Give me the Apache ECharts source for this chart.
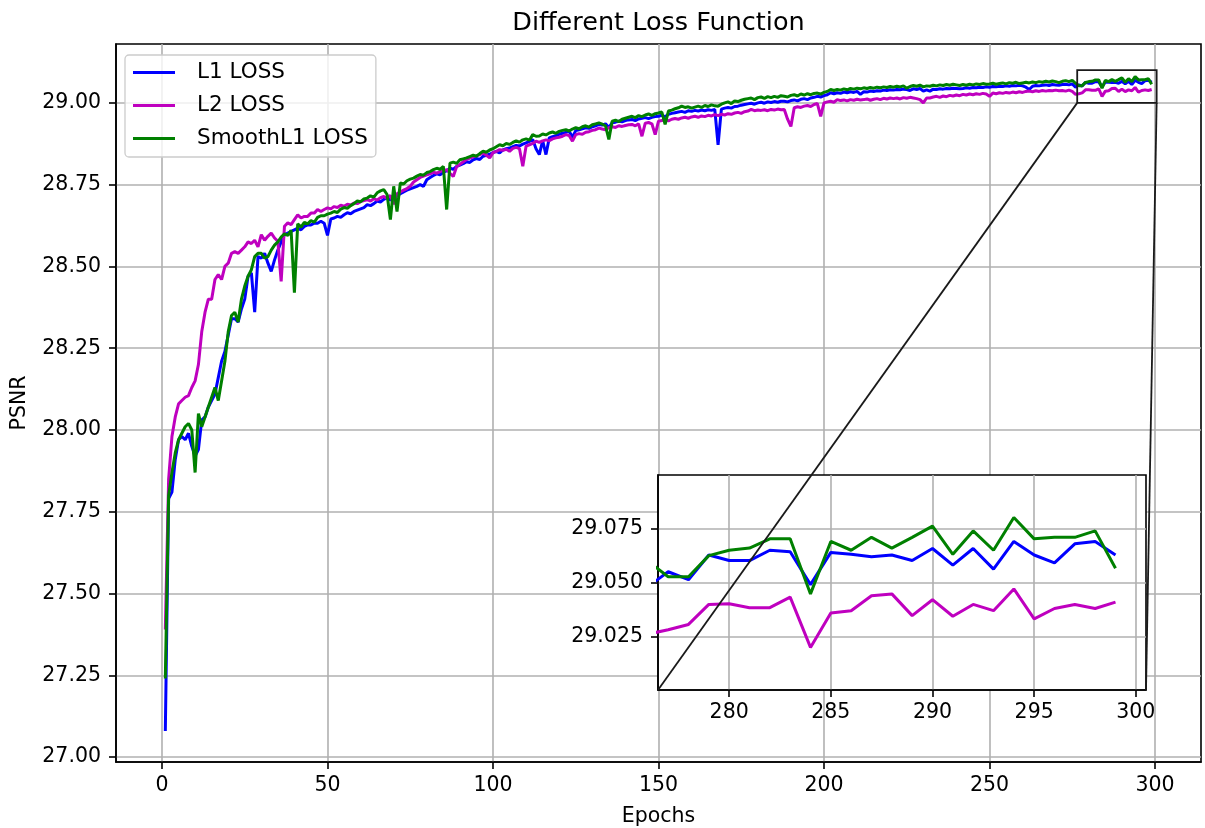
<!DOCTYPE html>
<html>
<head>
<meta charset="utf-8">
<script src="https://cdn.jsdelivr.net/npm/echarts@6.0.0/dist/echarts.min.js"></script>
<style>html,body{margin:0;padding:0;background:#fff}#c{width:1205px;height:828px}</style>
</head>
<body>
<div id="c"></div>
<script>
// ---------------- data ----------------
const FIRST_EPOCH = 1;
const seriesNames = ['L1 LOSS', 'L2 LOSS', 'SmoothL1 LOSS'];
const chartTitle = 'Different Loss Function';

const l1Loss = [
27.08, 27.79, 27.81, 27.91, 27.97, 27.98, 27.97, 27.99, 27.95, 27.92,
27.94, 28.03, 28.04, 28.07, 28.09, 28.11, 28.16, 28.21, 28.24, 28.29,
28.34, 28.34, 28.33, 28.37, 28.40, 28.47, 28.48, 28.36, 28.53, 28.525,
28.54, 28.51, 28.485, 28.52, 28.55, 28.575, 28.597, 28.602, 28.607, 28.612,
28.617, 28.612, 28.622, 28.627, 28.627, 28.632, 28.632, 28.638, 28.632, 28.595,
28.645, 28.648, 28.653, 28.65, 28.658, 28.664, 28.661, 28.668, 28.672, 28.676,
28.68, 28.689, 28.686, 28.692, 28.70, 28.697, 28.705, 28.71, 28.703, 28.712,
28.718, 28.722, 28.728, 28.733, 28.737, 28.741, 28.745, 28.75, 28.745, 28.765,
28.772, 28.778, 28.783, 28.78, 28.788, 28.792, 28.80, 28.797, 28.806, 28.81,
28.814, 28.82, 28.818, 28.826, 28.83, 28.827, 28.837, 28.84, 28.843, 28.848,
28.852, 28.847, 28.856, 28.86, 28.862, 28.866, 28.87, 28.868, 28.874, 28.878,
28.882, 28.888, 28.86, 28.842, 28.885, 28.842, 28.893, 28.897, 28.90, 28.904,
28.907, 28.91, 28.913, 28.895, 28.915, 28.918, 28.921, 28.924, 28.922, 28.927,
28.93, 28.934, 28.932, 28.936, 28.925, 28.939, 28.941, 28.944, 28.942, 28.946,
28.948, 28.949, 28.946, 28.951, 28.953, 28.955, 28.952, 28.956, 28.958, 28.959,
28.962, 28.958, 28.965, 28.968, 28.97, 28.972, 28.974, 28.971, 28.976, 28.974,
28.977, 28.975, 28.978, 28.976, 28.979, 28.977, 28.98, 28.872, 28.981, 28.984,
28.986, 28.984, 28.989, 28.99, 28.993, 28.995, 28.997, 28.999, 28.996, 29.00,
29.002, 28.999, 29.003, 29.001, 29.004, 29.002, 29.005, 29.005, 29.003, 29.007,
29.009, 29.006, 29.011, 29.013, 29.01, 29.015, 29.017, 29.02, 29.018, 29.022,
29.025, 29.031, 29.028, 29.031, 29.029, 29.033, 29.031, 29.034, 29.032, 29.035,
29.026, 29.034, 29.033, 29.036, 29.035, 29.037, 29.036, 29.039, 29.038, 29.04,
29.039, 29.041, 29.04, 29.042, 29.041, 29.038, 29.043, 29.041, 29.044, 29.036,
29.04, 29.036, 29.042, 29.041, 29.043, 29.042, 29.044, 29.043, 29.045, 29.044,
29.043, 29.044, 29.046, 29.045, 29.047, 29.046, 29.048, 29.047, 29.049, 29.048,
29.05, 29.049, 29.051, 29.05, 29.052, 29.051, 29.053, 29.052, 29.054, 29.052,
29.048, 29.041, 29.051, 29.053, 29.052, 29.054, 29.055, 29.053, 29.056, 29.055,
29.054, 29.056, 29.057, 29.055, 29.058, 29.048,
29.055, 29.0513, 29.0628, 29.0602, 29.0602, 29.065, 29.0643, 29.049, 29.064, 29.0631,
29.062, 29.0628, 29.0602, 29.0658, 29.0581, 29.0658, 29.0562, 29.0691, 29.0628, 29.0591,
29.068, 29.0691, 29.0628
];

const l2Loss = [
27.39, 27.85, 27.98, 28.04, 28.08, 28.09, 28.10, 28.105, 28.13, 28.15,
28.20, 28.30, 28.36, 28.40, 28.40, 28.46, 28.475, 28.46, 28.50, 28.51,
28.54, 28.545, 28.54, 28.55, 28.56, 28.575, 28.57, 28.58, 28.56, 28.597,
28.58, 28.592, 28.602, 28.587, 28.577, 28.454, 28.623, 28.633, 28.628, 28.643,
28.658, 28.648, 28.653, 28.653, 28.663, 28.663, 28.674, 28.668, 28.674, 28.679,
28.676, 28.683, 28.68, 28.687, 28.684, 28.69, 28.688, 28.694, 28.692, 28.698,
28.701, 28.704, 28.70, 28.707, 28.703, 28.71, 28.714, 28.708, 28.717, 28.69,
28.722, 28.728, 28.733, 28.738, 28.745, 28.758, 28.765, 28.772, 28.776, 28.78,
28.783, 28.788, 28.785, 28.79, 28.793, 28.796, 28.785, 28.775, 28.805, 28.812,
28.82, 28.827, 28.831, 28.835, 28.838, 28.842, 28.847, 28.84, 28.832, 28.848,
28.852, 28.857, 28.855, 28.858, 28.852, 28.861, 28.864, 28.86, 28.806, 28.868,
28.872, 28.876, 28.883, 28.879, 28.884, 28.887, 28.884, 28.89, 28.893, 28.895,
28.898, 28.903, 28.90, 28.883, 28.903, 28.906, 28.904, 28.91, 28.912, 28.916,
28.918, 28.923, 28.92, 28.918, 28.924, 28.927, 28.925, 28.93, 28.928, 28.931,
28.933, 28.934, 28.93, 28.936, 28.898, 28.938, 28.94, 28.936, 28.903, 28.944,
28.946, 28.948, 28.945, 28.95, 28.952, 28.95, 28.954, 28.956, 28.953, 28.957,
28.959, 28.956, 28.96, 28.958, 28.962, 28.96, 28.964, 28.961, 28.965, 28.963,
28.967, 28.965, 28.969, 28.971, 28.968, 28.973, 28.975, 28.98, 28.976, 28.978,
28.977, 28.979, 28.976, 28.98, 28.978, 28.981, 28.979, 28.98, 28.95, 28.928,
28.985, 28.988, 28.986, 28.99, 28.992, 28.989, 28.995, 28.998, 28.959, 29.00,
29.003, 29.005, 29.002, 29.01, 29.007, 29.009, 29.006, 29.01, 29.008, 29.011,
29.009, 29.01, 29.012, 29.008, 29.011, 29.013, 29.01, 29.014, 29.012, 29.015,
29.013, 29.015, 29.012, 29.016, 29.014, 29.017, 29.015, 29.013, 29.01, 29.00,
29.015, 29.015, 29.018, 29.02, 29.017, 29.021, 29.019, 29.023, 29.021, 29.024,
29.022, 29.026, 29.024, 29.027, 29.025, 29.028, 29.026, 29.029, 29.027, 29.02,
29.03, 29.028, 29.031, 29.029, 29.032, 29.03, 29.033, 29.031, 29.034, 29.032,
29.035, 29.036, 29.034, 29.037, 29.035, 29.038, 29.036, 29.038, 29.037, 29.039,
29.037, 29.038, 29.036, 29.039, 29.035, 29.026,
29.028, 29.0305, 29.0398, 29.0401, 29.0383, 29.0383, 29.0432, 29.0198, 29.0358, 29.0369,
29.0438, 29.0447, 29.0346, 29.042, 29.0343, 29.0398, 29.0369, 29.047, 29.0331, 29.0379,
29.0398, 29.0379, 29.0409
];

const smoothL1Loss = [
27.24, 27.80, 27.87, 27.93, 27.97, 27.99, 28.01, 28.02, 28.00, 27.87,
28.05, 28.01, 28.04, 28.07, 28.10, 28.13, 28.09, 28.15, 28.21, 28.30,
28.35, 28.36, 28.33, 28.40, 28.44, 28.47, 28.49, 28.53, 28.54, 28.54,
28.525, 28.53, 28.55, 28.565, 28.575, 28.59, 28.60, 28.595, 28.61, 28.42,
28.63, 28.62, 28.635, 28.63, 28.64, 28.635, 28.65, 28.655, 28.655, 28.66,
28.663, 28.668, 28.665, 28.675, 28.68, 28.678, 28.686, 28.692, 28.70, 28.698,
28.706, 28.709, 28.716, 28.712, 28.725, 28.731, 28.735, 28.72, 28.643, 28.745,
28.668, 28.755, 28.752, 28.762, 28.767, 28.77, 28.776, 28.781, 28.779, 28.787,
28.79, 28.796, 28.80, 28.797, 28.806, 28.674, 28.816, 28.819, 28.815, 28.826,
28.829, 28.832, 28.836, 28.84, 28.837, 28.845, 28.852, 28.849, 28.856, 28.86,
28.866, 28.872, 28.869, 28.876, 28.873, 28.879, 28.884, 28.88, 28.887, 28.89,
28.886, 28.903, 28.898, 28.899, 28.905, 28.902, 28.908, 28.911, 28.907, 28.913,
28.916, 28.918, 28.914, 28.92, 28.924, 28.921, 28.927, 28.93, 28.926, 28.933,
28.936, 28.939, 28.935, 28.93, 28.888, 28.944, 28.947, 28.943, 28.95, 28.953,
28.956, 28.959, 28.955, 28.961, 28.958, 28.963, 28.966, 28.962, 28.967, 28.969,
28.972, 28.934, 28.975, 28.978, 28.982, 28.985, 28.99, 28.986, 28.988, 28.984,
28.987, 28.99, 28.986, 28.992, 28.989, 28.994, 28.991, 28.99, 28.996, 29.00,
29.003, 28.998, 29.006, 29.004, 29.008, 29.011, 29.013, 29.015, 29.01, 29.016,
29.018, 29.014, 29.019, 29.016, 29.02, 29.017, 29.022, 29.02, 29.018, 29.023,
29.025, 29.021, 29.027, 29.024, 29.028, 29.025, 29.029, 29.03, 29.027, 29.032,
29.035, 29.041, 29.038, 29.041, 29.039, 29.043, 29.04, 29.044, 29.042, 29.045,
29.043, 29.046, 29.044, 29.047, 29.045, 29.048, 29.046, 29.049, 29.047, 29.05,
29.048, 29.051, 29.049, 29.052, 29.045, 29.05, 29.053, 29.051, 29.054, 29.049,
29.052, 29.051, 29.054, 29.052, 29.055, 29.053, 29.056, 29.054, 29.057, 29.055,
29.053, 29.056, 29.054, 29.057, 29.055, 29.058, 29.056, 29.059, 29.057, 29.058,
29.06, 29.057, 29.059, 29.061, 29.058, 29.062, 29.06, 29.063, 29.059, 29.061,
29.063, 29.061, 29.064, 29.062, 29.065, 29.063, 29.066, 29.064, 29.067, 29.065,
29.062, 29.066, 29.068, 29.065, 29.069, 29.06,
29.0527, 29.0527, 29.0625, 29.065, 29.066, 29.0703, 29.0703, 29.0447, 29.0691, 29.065,
29.071, 29.066, 29.071, 29.0762, 29.0631, 29.074, 29.065, 29.0802, 29.0703, 29.071,
29.071, 29.074, 29.0566
];

const mainXTicks = [0, 50, 100, 150, 200, 250, 300];
const mainYTicks = [27.00, 27.25, 27.50, 27.75, 28.00, 28.25, 28.50, 28.75, 29.00];
const mainXRange = [-13.9, 313.9];
const mainYRange = [26.985, 29.18];
const insetXTicks = [280, 285, 290, 295, 300];
const insetYTicks = [29.025, 29.050, 29.075];
const zoomXRange = [276.5, 300.5];
const zoomYRange = [29.0, 29.1];

// ---------------- chart ----------------
const FONT = 'DejaVu Sans';
const colors = ['#0000ff', '#bf00bf', '#008000'];
const allData = [l1Loss, l2Loss, smoothL1Loss];
const toPairs = arr => arr.map((v, i) => [FIRST_EPOCH + i, v]);

function makeAxis(o) {
  return {
    type: 'value',
    gridIndex: o.grid,
    min: o.range[0], max: o.range[1],
    z: o.z,
    name: o.name || '',
    nameLocation: 'middle',
    nameGap: o.nameGap || 0,
    nameTextStyle: {fontFamily: FONT, fontSize: 20.5, color: '#000'},
    axisLine: {show: true, onZero: false, lineStyle: {color: '#000', width: 1.6}},
    axisTick: {show: true, inside: false, length: 7, customValues: o.ticks,
               lineStyle: {color: '#000', width: 1.6}},
    axisLabel: {show: true, customValues: o.ticks, margin: o.margin,
                fontFamily: FONT, fontSize: 20.5, color: '#000',
                formatter: o.fmt},
    splitLine: {show: true, lineStyle: {color: '#b0b0b0', width: 1.6}}
  };
}

const series = [];
allData.forEach((arr, i) => {
  series.push({
    name: seriesNames[i], type: 'line', xAxisIndex: 0, yAxisIndex: 0,
    data: toPairs(arr), symbol: 'none', showSymbol: false, z: 2 + i * 0.01,
    lineStyle: {color: colors[i], width: 3}, itemStyle: {color: colors[i]},
    emphasis: {disabled: true}
  });
});
allData.forEach((arr, i) => {
  series.push({
    name: seriesNames[i], type: 'line', xAxisIndex: 1, yAxisIndex: 1,
    data: toPairs(arr), symbol: 'none', showSymbol: false, clip: true, z: 8 + i * 0.01,
    lineStyle: {color: colors[i], width: 3}, itemStyle: {color: colors[i]},
    emphasis: {disabled: true}
  });
});

const chart = echarts.init(document.getElementById('c'), null, {renderer: 'canvas'});
chart.setOption({
  animation: false,
  backgroundColor: '#fff',
  legend: {
    data: seriesNames, orient: 'vertical', left: 125, top: 55,
    icon: 'rect', itemWidth: 42, itemHeight: 3, itemGap: 8,
    padding: [5, 8, 6, 8],
    backgroundColor: 'rgba(255,255,255,0.8)', borderColor: '#cccccc', borderWidth: 1.3, borderRadius: 4,
    textStyle: {fontFamily: FONT, fontSize: 21.5, color: '#000', lineHeight: 25, padding: [0, 0, 0, 17]},
    selectedMode: false, z: 30
  },
  grid: [
    {left: 116, right: 4, top: 44, bottom: 66, show: true, borderColor: '#000', borderWidth: 1.6,
     backgroundColor: 'transparent', outerBoundsMode: 'none', containLabel: false},
    {left: 658, top: 475, width: 488, height: 215, show: true, borderColor: '#000', borderWidth: 1.6,
     backgroundColor: '#fff', z: 5, outerBoundsMode: 'none', containLabel: false}
  ],
  xAxis: [
    makeAxis({grid: 0, range: mainXRange, ticks: mainXTicks, z: 0, margin: 13,
              name: 'Epochs', nameGap: 44, fmt: v => String(Math.round(v))}),
    makeAxis({grid: 1, range: zoomXRange, ticks: insetXTicks, z: 6, margin: 12,
              fmt: v => String(Math.round(v))})
  ],
  yAxis: [
    makeAxis({grid: 0, range: mainYRange, ticks: mainYTicks, z: 0, margin: 15,
              name: 'PSNR', nameGap: 86, fmt: v => v.toFixed(2)}),
    makeAxis({grid: 1, range: zoomYRange, ticks: insetYTicks, z: 6, margin: 15,
              fmt: v => v.toFixed(3)})
  ],
  series: series
});

// title centred over the plot, zoom indicator box and connectors positioned through the axes
const p0 = (x, y) => chart.convertToPixel({gridIndex: 0}, [x, y]);
const p1 = (x, y) => chart.convertToPixel({gridIndex: 1}, [x, y]);
const plotLeft = p0(mainXRange[0], mainYRange[1]);
const plotRight = p0(mainXRange[1], mainYRange[1]);
const boxUL = p0(zoomXRange[0], zoomYRange[1]);
const boxLR = p0(zoomXRange[1], zoomYRange[0]);
const boxLL = p0(zoomXRange[0], zoomYRange[0]);
const insLL = p1(zoomXRange[0], zoomYRange[0]);
const insLR = p1(zoomXRange[1], zoomYRange[0]);
chart.setOption({
  graphic: [
    {type: 'text', silent: true, z: 40,
     x: (plotLeft[0] + plotRight[0]) / 2, y: plotLeft[1] - 21,
     style: {text: chartTitle, align: 'center', verticalAlign: 'middle',
             fontFamily: FONT, fontSize: 25.5, fill: '#000'}},
    {type: 'rect', silent: true, z: 40,
     shape: {x: boxUL[0], y: boxUL[1], width: boxLR[0] - boxUL[0], height: boxLR[1] - boxUL[1]},
     style: {fill: 'none', stroke: '#1a1a1a', lineWidth: 1.8}},
    {type: 'line', silent: true, z: 40,
     shape: {x1: boxLL[0], y1: boxLL[1], x2: insLL[0], y2: insLL[1]},
     style: {stroke: '#1a1a1a', lineWidth: 1.8}},
    {type: 'line', silent: true, z: 40,
     shape: {x1: boxLR[0], y1: boxLR[1], x2: insLR[0], y2: insLR[1]},
     style: {stroke: '#1a1a1a', lineWidth: 1.8}}
  ]
});
</script>
</body>
</html>
